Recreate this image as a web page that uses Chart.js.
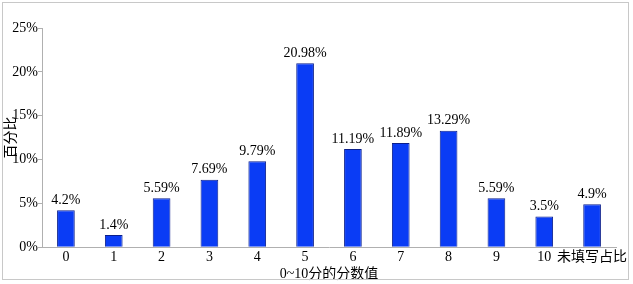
<!DOCTYPE html>
<html>
<head>
<meta charset="utf-8">
<script src="https://cdn.jsdelivr.net/npm/chart.js@4/dist/chart.umd.min.js"></script>
<style>
  html, body { margin: 0; padding: 0; background: #fff; }
  #wrap { position: relative; width: 633px; height: 284px; }
  #frame { position: absolute; left: 2px; top: 2px; width: 627px; height: 278px; border: 1px solid #c8c8c8; box-sizing: border-box; pointer-events: none; }
</style>
</head>
<body>
<div id="wrap">
  <canvas id="scoreChart" width="633" height="284"></canvas>
  <div id="frame"></div>
</div>
<script>
const categories = ["0", "1", "2", "3", "4", "5", "6", "7", "8", "9", "10", "未填写占比"];
const percentages = [4.2, 1.4, 5.59, 7.69, 9.79, 20.98, 11.19, 11.89, 13.29, 5.59, 3.5, 4.9];
const valueLabels = ["4.2%", "1.4%", "5.59%", "7.69%", "9.79%", "20.98%", "11.19%", "11.89%", "13.29%", "5.59%", "3.5%", "4.9%"];

const serif = "'Liberation Serif', 'Noto Sans CJK SC', serif";

// draw the value text above each bar
const barValues = {
  id: "barValues",
  afterDatasetsDraw(chart) {
    const ctx = chart.ctx;
    const meta = chart.getDatasetMeta(0);
    ctx.save();
    ctx.font = "14px " + serif;
    ctx.fillStyle = "#000";
    ctx.textAlign = "center";
    ctx.textBaseline = "bottom";
    meta.data.forEach((bar, i) => {
      ctx.fillText(valueLabels[i], bar.x, bar.y - 3);
    });
    ctx.restore();
  },
};

const ctx = document.getElementById("scoreChart").getContext("2d");

new Chart(ctx, {
  type: "bar",
  data: {
    labels: categories,
    datasets: [
      {
        data: percentages,
        backgroundColor: "#0a3cf5",
        borderColor: "#0b1f8c",
        borderWidth: 1,
        barPercentage: 0.74,
        categoryPercentage: 0.5,
      },
    ],
  },
  options: {
    responsive: false,
    animation: false,
    plugins: {
      legend: { display: false },
      tooltip: { enabled: false },
    },
    layout: {
      padding: { left: 4, top: 28, right: 17, bottom: 2 },
    },
    scales: {
      x: {
        grid: { display: false, drawTicks: false },
        border: { color: "#b0b0b0", width: 1 },
        ticks: {
          color: "#000",
          font: { family: serif, size: 14, lineHeight: 1.1 },
          padding: 2,
          maxRotation: 0,
          autoSkip: false,
        },
        title: {
          display: true,
          text: "0~10分的分数值",
          color: "#000",
          font: { family: serif, size: 14, lineHeight: 1.1 },
          padding: { top: 0, bottom: 0 },
        },
      },
      y: {
        min: 0,
        max: 25,
        afterFit: (scale) => {
          scale.width = 38;
        },
        grid: { drawOnChartArea: false, tickLength: 4, color: "#b0b0b0" },
        border: { color: "#b0b0b0", width: 1 },
        ticks: {
          stepSize: 5,
          color: "#000",
          font: { family: serif, size: 14 },
          padding: 0,
          callback: (v) => v + "%",
        },
        title: {
          display: true,
          text: "百分比",
          color: "#000",
          font: { family: serif, size: 14, lineHeight: 1.1 },
          padding: { top: 0, bottom: 0 },
        },
      },
    },
  },
  plugins: [barValues],
});
</script>
</body>
</html>
